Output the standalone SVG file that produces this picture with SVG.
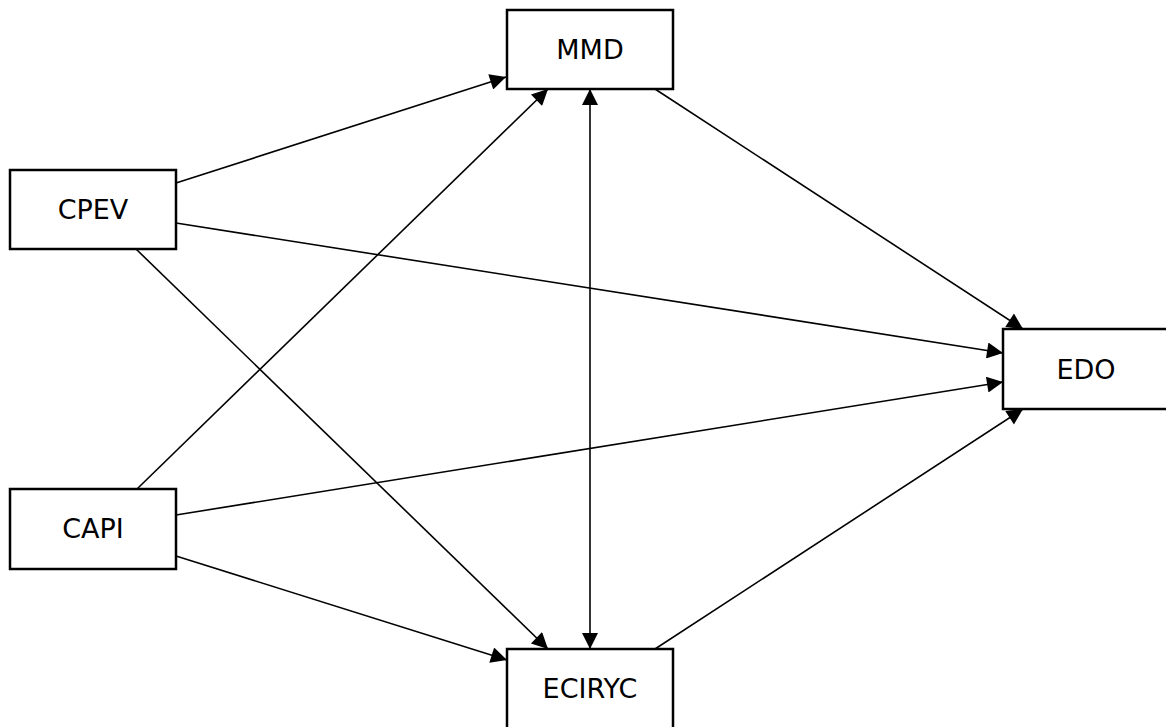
<svg xmlns="http://www.w3.org/2000/svg" width="1166" height="727" viewBox="0 0 1166 727">
<style>
.box{fill:#fff;stroke:#000;stroke-width:2.5}
.lbl{font-family:"DejaVu Sans",Verdana,sans-serif;font-size:27px;fill:#000;text-anchor:middle}
.edge{fill:none;stroke:#000;stroke-width:1.6}
</style>
<defs>
<marker id="ah" viewBox="0 0 10 10" refX="10" refY="5" markerUnits="userSpaceOnUse" markerWidth="21" markerHeight="16" orient="auto-start-reverse">
<path d="M0,0 L10,5 L0,10 z" fill="#000"/>
</marker>
</defs>
<rect width="1166" height="727" fill="#fff"/>
<g id="connectors">
<line class="edge" x1="176" y1="183" x2="506" y2="77" marker-end="url(#ah)"/>
<line class="edge" x1="176" y1="223" x2="1003" y2="353" marker-end="url(#ah)"/>
<line class="edge" x1="136" y1="249" x2="548" y2="649" marker-end="url(#ah)"/>
<line class="edge" x1="137" y1="489" x2="548" y2="89" marker-end="url(#ah)"/>
<line class="edge" x1="176" y1="515" x2="1003" y2="382" marker-end="url(#ah)"/>
<line class="edge" x1="176" y1="556" x2="507" y2="660" marker-end="url(#ah)"/>
<line class="edge" x1="590" y1="89" x2="590" y2="649" marker-start="url(#ah)" marker-end="url(#ah)"/>
<line class="edge" x1="655" y1="89" x2="1023" y2="329" marker-end="url(#ah)"/>
<line class="edge" x1="655" y1="649" x2="1023" y2="409" marker-end="url(#ah)"/>
</g>
<g id="MMD"><rect class="box" x="507" y="10" width="166" height="79"/><text class="lbl" x="590" y="59">MMD</text></g>
<g id="CPEV"><rect class="box" x="10" y="170" width="166" height="79"/><text class="lbl" x="93" y="219">CPEV</text></g>
<g id="CAPI"><rect class="box" x="10" y="489" width="166" height="80"/><text class="lbl" x="93" y="538">CAPI</text></g>
<g id="EDO"><rect class="box" x="1003" y="329" width="166" height="80"/><text class="lbl" x="1086" y="379">EDO</text></g>
<g id="ECIRYC"><rect class="box" x="507" y="649" width="166" height="80"/><text class="lbl" x="590" y="698">ECIRYC</text></g>
</svg>
